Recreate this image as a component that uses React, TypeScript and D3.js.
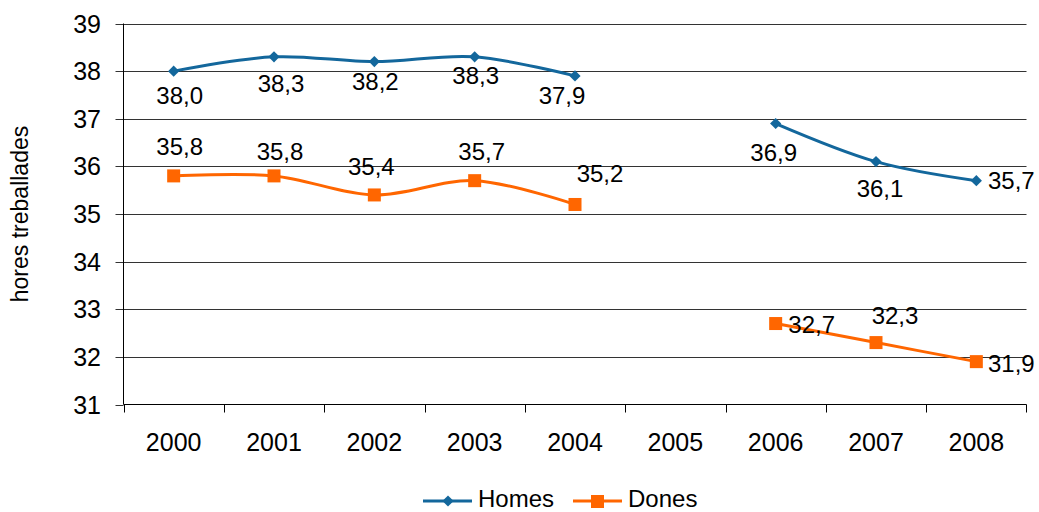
import React from "react";
import * as d3 from "d3";

const years = ["2000", "2001", "2002", "2003", "2004", "2005", "2006", "2007", "2008"];
const homes: (number | null)[] = [38.0, 38.3, 38.2, 38.3, 37.9, null, 36.9, 36.1, 35.7];
const dones: (number | null)[] = [35.8, 35.8, 35.4, 35.7, 35.2, null, 32.7, 32.3, 31.9];
const yTicks = [31, 32, 33, 34, 35, 36, 37, 38, 39];
// label offsets (dx, dy) relative to each point, as placed in the original
const homesLabelOffsets: [number, number][] = [[6, 33], [7, 35], [1, 28], [1, 27], [-13, 28], [0, 0], [-2, 37], [4, 35], [35, 8]];
const donesLabelOffsets: [number, number][] = [[6, -21], [6, -16], [-3, -20], [7, -21], [25, -22], [0, 0], [36, 9], [19, -19], [35, 10]];

const W = 1039;
const H = 512;
const left = 123.5;
const right = 1026.5;
const top = 23.5;
const bottom = 404.5;

const HOMES_COLOR = "#13679C";
const DONES_COLOR = "#FF6600";
const FONT = "Liberation Sans, Arial, sans-serif";

export default function App() {
  const x = d3.scaleBand<string>().domain(years).range([left, right]);
  const y = d3.scaleLinear().domain([31, 39]).range([bottom, top]);
  const cx = (i: number) => (x(years[i]) as number) + x.bandwidth() / 2;

  const line = d3
    .line<number | null>()
    .defined((d) => d !== null)
    .x((_, i) => cx(i))
    .y((d) => y(d as number))
    .curve(d3.curveCardinal.tension(0));

  const fmt = (v: number) => v.toFixed(1).replace(".", ",");
  const diamond = d3.symbol().type(d3.symbolDiamond2).size(80)();

  return (
    <svg width={W} height={H} style={{ position: "absolute", left: 0, top: 0 }} fontFamily={FONT}>
      <rect width={W} height={H} fill="#fff" />
      {/* gridlines */}
      {yTicks.map((t) => (
        <g key={t}>
          {t > 31 && <line x1={left} x2={right} y1={Math.round(y(t)) + 0.5} y2={Math.round(y(t)) + 0.5} stroke="#333" strokeWidth={1} />}
          <line x1={left - 8} x2={left} y1={Math.round(y(t)) + 0.5} y2={Math.round(y(t)) + 0.5} stroke="#333" />
          <text x={101} y={y(t)} dy="0.36em" textAnchor="end" fontSize={25} fill="#000">
            {t}
          </text>
        </g>
      ))}
      {/* axes */}
      <line x1={left} x2={left} y1={top} y2={bottom} stroke="#000" />
      <line x1={left} x2={right} y1={bottom} y2={bottom} stroke="#000" />
      {years.map((yr, i) => (
        <g key={yr}>
          <line x1={Math.round(x(yr) as number) + 0.5} x2={Math.round(x(yr) as number) + 0.5} y1={bottom} y2={bottom + 8} stroke="#000" />
          <text x={cx(i)} y={451} textAnchor="middle" fontSize={25} fill="#000">
            {yr}
          </text>
        </g>
      ))}
      <line x1={right} x2={right} y1={bottom} y2={bottom + 8} stroke="#000" />
      <text transform={`translate(28,214) rotate(-90)`} textAnchor="middle" fontSize={23} fill="#000">
        hores treballades
      </text>

      {/* lines */}
      <path d={line(homes) || ""} fill="none" stroke={HOMES_COLOR} strokeWidth={3} />
      <path d={line(dones) || ""} fill="none" stroke={DONES_COLOR} strokeWidth={3} />

      {homes.map((v, i) =>
        v === null ? null : (
          <path key={"h" + i} d={diamond || ""} transform={`translate(${cx(i)},${y(v)})`} fill={HOMES_COLOR} />
        )
      )}
      {dones.map((v, i) =>
        v === null ? null : (
          <rect key={"d" + i} x={cx(i) - 6.5} y={y(v) - 6.5} width={13} height={13} fill={DONES_COLOR} />
        )
      )}

      {/* labels */}
      {homes.map((v, i) =>
        v === null ? null : (
          <text key={"hl" + i} x={cx(i) + homesLabelOffsets[i][0]} y={y(v) + homesLabelOffsets[i][1]} textAnchor="middle" fontSize={24} fill="#000">
            {fmt(v)}
          </text>
        )
      )}
      {dones.map((v, i) =>
        v === null ? null : (
          <text key={"dl" + i} x={cx(i) + donesLabelOffsets[i][0]} y={y(v) + donesLabelOffsets[i][1]} textAnchor="middle" fontSize={24} fill="#000">
            {fmt(v)}
          </text>
        )
      )}

      {/* legend */}
      <g>
        <line x1={423} x2={472} y1={501} y2={501} stroke={HOMES_COLOR} strokeWidth={3} />
        <path d={diamond || ""} transform="translate(448,501)" fill={HOMES_COLOR} />
        <text x={478} y={507} fontSize={24} fill="#000">Homes</text>
        <line x1={573} x2={622} y1={501} y2={501} stroke={DONES_COLOR} strokeWidth={3} />
        <rect x={591} y={495} width={13} height={13} fill={DONES_COLOR} />
        <text x={628} y={507} fontSize={24} fill="#000">Dones</text>
      </g>
    </svg>
  );
}
